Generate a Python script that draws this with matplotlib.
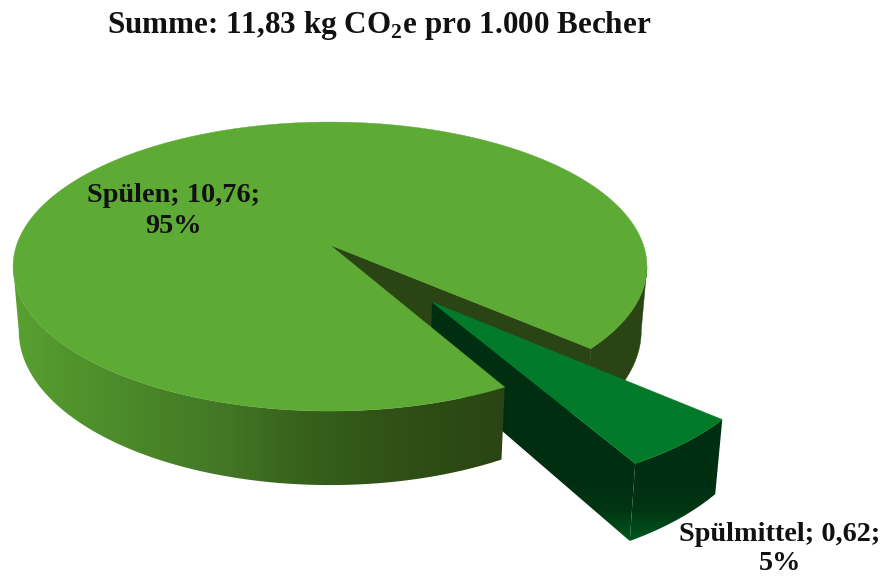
import numpy as np
import matplotlib
matplotlib.use("Agg")
import matplotlib.pyplot as plt
from matplotlib.colors import to_rgb
from matplotlib.patches import Polygon

# data
categories = ["Spülen", "Spülmittel"]
values = [10.76, 0.62]
value_labels = ["10,76", "0,62"]
percent_labels = ["95%", "5%"]
title_text = r"Summe: 11,83 kg CO$_{\mathbf{2}}$e pro 1.000 Becher"

# look of the 3D pie (Excel style perspective)
W, H = 884, 580
CX, CY = 330, 245
RX, RY = 313.4, 141.3
K = 0.149      # perspective strength
DEPTH = 63
SHRINK = 0.018 # bottom face is a bit narrower
START = 41.4   # angle where the small slice begins, clockwise on screen
EXPLODE = 0.49
EDGE = 8.5     # angle of the left/right silhouette of the disc

TOP_MAIN = "#5dab35"
TOP_SMALL = "#027a29"
WALL_MAIN = "#2a4513"

plt.rcParams["font.family"] = "Liberation Serif"
plt.rcParams["mathtext.fontset"] = "custom"
plt.rcParams["mathtext.bf"] = "Liberation Serif:bold"
plt.rcParams["mathtext.rm"] = "Liberation Serif:bold"


def project(u, v, z=0.0):
    # pie plane -> pixels, v points to the viewer
    u, v = np.asarray(u, float), np.asarray(v, float)
    w = 1 - K * v
    return CX + RX * u / w * (1 - SHRINK * z), CY + (RY * v + DEPTH * z) / w


def arc(t0, t1, n=120):
    t = np.radians(np.linspace(t0, t1, n))
    return np.cos(t), np.sin(t)


def band(u, v):
    # outline of the vertical face under the points u, v
    xt, yt = project(u, v, 0)
    xb, yb = project(u, v, 1)
    return np.r_[xt, xb[::-1]], np.r_[yt, yb[::-1]]


def gradient_fill(ax, xs, ys, stops, axis, zorder):
    # linear gradient over the whole canvas, clipped to the polygon
    n = W if axis == "x" else H
    cols = np.array([to_rgb(s[1]) for s in stops])
    grid = np.arange(n) + 0.5
    ramp = np.stack([np.interp(grid, [s[0] for s in stops], cols[:, i]) for i in range(3)], axis=-1)
    img = ramp[np.newaxis, :, :] if axis == "x" else ramp[:, np.newaxis, :]
    im = ax.imshow(img, extent=(0, W, H, 0), aspect="auto", interpolation="nearest", zorder=zorder)
    im.set_clip_path(Polygon(np.c_[xs, ys], closed=True, transform=ax.transData))


fig = plt.figure(figsize=(8.84, 5.8), dpi=100)
ax = fig.add_axes([0, 0, 1, 1])
ax.axis("off")

sweep = 360 * values[1] / sum(values)
end = START + sweep
mid = np.radians(START + sweep / 2)
off_u, off_v = EXPLODE * np.cos(mid), EXPLODE * np.sin(mid)

# back part of the big slice: outer face and the cut face
u, v = arc(EDGE, START)
xs, ys = band(u, v)
ax.fill(xs, ys, color=WALL_MAIN, lw=0.3, zorder=1)
ue, ve = np.cos(np.radians(START)), np.sin(np.radians(START))
xs, ys = band([0, ue], [0, ve])
ax.fill(xs, ys, color=WALL_MAIN, lw=0.3, zorder=2)

# small slice, pulled out
small_shade = [(440, "#002e11"), (480, "#002e11"), (510, "#003513"), (537, "#00541e")]
u, v = arc(START, end)
xs, ys = band(u + off_u, v + off_v)
gradient_fill(ax, xs, ys, small_shade, "y", 3)
ue, ve = np.cos(np.radians(end)), np.sin(np.radians(end))
xs, ys = band([off_u, off_u + ue], [off_v, off_v + ve])
gradient_fill(ax, xs, ys, small_shade, "y", 4)
xs, ys = project(np.r_[0, u] + off_u, np.r_[0, v] + off_v, 0)
ax.fill(xs, ys, color=TOP_SMALL, lw=0.3, zorder=5)

# front part and top of the big slice
front_shade = [(13, "#59a130"), (60, "#52962d"), (130, "#4b892a"), (230, "#427524"),
               (300, "#37621c"), (400, "#2f5016"), (503, WALL_MAIN)]
u, v = arc(end, 180 - EDGE)
xs, ys = band(u, v)
gradient_fill(ax, xs, ys, front_shade, "x", 6)
u, v = arc(end, START + 360, 300)
xs, ys = project(np.r_[0, u], np.r_[0, v], 0)
ax.fill(xs, ys, color=TOP_MAIN, lw=0.3, zorder=7)

ax.set_xlim(0, W)
ax.set_ylim(H, 0)

# labels
ax.text(379, 26, title_text, fontsize=22.4, fontweight="bold", ha="center", va="center",
        color="#111111", zorder=10)
ax.text(174, 211, f"{categories[0]}; {value_labels[0]};\n{percent_labels[0]}", fontsize=20.3,
        fontweight="bold", ha="center", va="center", linespacing=1.27, color="#111111", zorder=10)
ax.text(780, 549, f"{categories[1]}; {value_labels[1]};\n{percent_labels[1]}", fontsize=20.3,
        fontweight="bold", ha="center", va="center", linespacing=1.2, color="#111111", zorder=10)

fig.savefig("out.png", dpi=100, facecolor="white")
